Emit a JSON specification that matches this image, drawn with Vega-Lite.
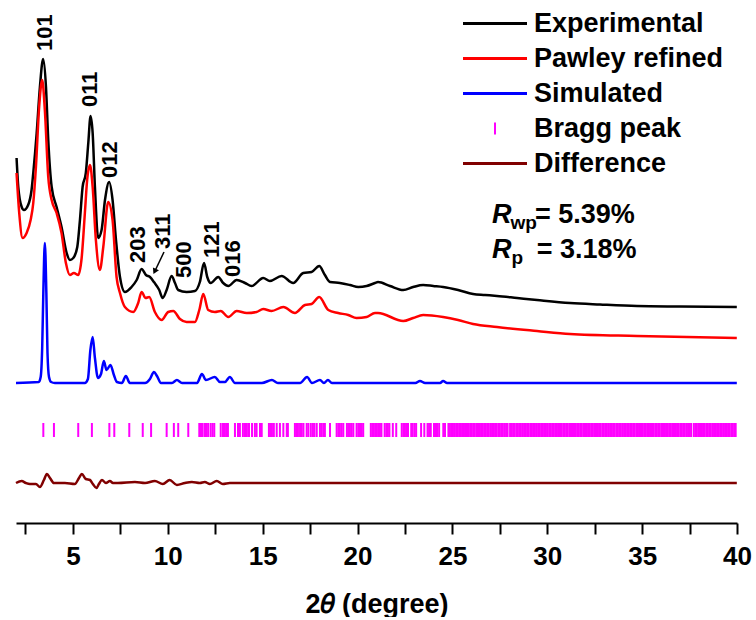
{
"$schema":"https://vega.github.io/schema/vega-lite/v6.json",
"width":721,"height":523,
"padding":{"left":11,"top":0,"right":0,"bottom":0},
"config":{"font":"Liberation Sans","view":{"stroke":null}},
"datasets":{
"curves":[
{"s":"Experimental","t":2.03,"y":365},{"s":"Experimental","t":2.12,"y":336},{"s":"Experimental","t":2.30,"y":316},{"s":"Experimental","t":2.42,"y":313},{"s":"Experimental","t":2.64,"y":318},{"s":"Experimental","t":2.82,"y":333},{"s":"Experimental","t":2.91,"y":350},{"s":"Experimental","t":3.09,"y":390},{"s":"Experimental","t":3.26,"y":436},{"s":"Experimental","t":3.43,"y":464},{"s":"Experimental","t":3.58,"y":436},{"s":"Experimental","t":3.70,"y":383},{"s":"Experimental","t":3.88,"y":336},{"s":"Experimental","t":4.14,"y":316},{"s":"Experimental","t":4.40,"y":296},{"s":"Experimental","t":4.67,"y":270},{"s":"Experimental","t":4.84,"y":263},{"s":"Experimental","t":5.02,"y":265},{"s":"Experimental","t":5.23,"y":276},{"s":"Experimental","t":5.37,"y":303},{"s":"Experimental","t":5.51,"y":336},{"s":"Experimental","t":5.68,"y":350},{"s":"Experimental","t":5.81,"y":380},{"s":"Experimental","t":5.93,"y":407},{"s":"Experimental","t":6.04,"y":390},{"s":"Experimental","t":6.16,"y":336},{"s":"Experimental","t":6.33,"y":285},{"s":"Experimental","t":6.51,"y":293},{"s":"Experimental","t":6.69,"y":323},{"s":"Experimental","t":6.91,"y":341},{"s":"Experimental","t":7.09,"y":323},{"s":"Experimental","t":7.27,"y":283},{"s":"Experimental","t":7.48,"y":246},{"s":"Experimental","t":7.74,"y":231},{"s":"Experimental","t":8.09,"y":236},{"s":"Experimental","t":8.36,"y":243},{"s":"Experimental","t":8.62,"y":254},{"s":"Experimental","t":8.85,"y":248},{"s":"Experimental","t":9.06,"y":246},{"s":"Experimental","t":9.27,"y":241},{"s":"Experimental","t":9.55,"y":233},{"s":"Experimental","t":9.73,"y":225},{"s":"Experimental","t":9.94,"y":233},{"s":"Experimental","t":10.20,"y":247},{"s":"Experimental","t":10.38,"y":240},{"s":"Experimental","t":10.55,"y":233},{"s":"Experimental","t":10.99,"y":231},{"s":"Experimental","t":11.43,"y":232},{"s":"Experimental","t":11.69,"y":241},{"s":"Experimental","t":11.91,"y":260},{"s":"Experimental","t":12.08,"y":246},{"s":"Experimental","t":12.26,"y":240},{"s":"Experimental","t":12.66,"y":246},{"s":"Experimental","t":12.92,"y":240},{"s":"Experimental","t":13.19,"y":237},{"s":"Experimental","t":13.63,"y":243},{"s":"Experimental","t":14.07,"y":240},{"s":"Experimental","t":14.42,"y":237},{"s":"Experimental","t":15.03,"y":245},{"s":"Experimental","t":15.38,"y":242},{"s":"Experimental","t":16.00,"y":247},{"s":"Experimental","t":16.61,"y":240},{"s":"Experimental","t":17.14,"y":250},{"s":"Experimental","t":17.58,"y":251},{"s":"Experimental","t":17.98,"y":257},{"s":"Experimental","t":18.28,"y":248},{"s":"Experimental","t":18.55,"y":241},{"s":"Experimental","t":19.07,"y":240},{"s":"Experimental","t":19.60,"y":238},{"s":"Experimental","t":20.04,"y":236},{"s":"Experimental","t":20.48,"y":237},{"s":"Experimental","t":20.92,"y":240},{"s":"Experimental","t":21.08,"y":241},{"s":"Experimental","t":21.71,"y":237},{"s":"Experimental","t":22.41,"y":233},{"s":"Experimental","t":22.93,"y":236},{"s":"Experimental","t":23.46,"y":238},{"s":"Experimental","t":23.99,"y":237},{"s":"Experimental","t":24.51,"y":236},{"s":"Experimental","t":25.30,"y":233},{"s":"Experimental","t":26.09,"y":229},{"s":"Experimental","t":26.72,"y":228},{"s":"Experimental","t":27.35,"y":227},{"s":"Experimental","t":28.41,"y":225},{"s":"Experimental","t":29.46,"y":223},{"s":"Experimental","t":31.20,"y":220},{"s":"Experimental","t":32.78,"y":218.5},{"s":"Experimental","t":34.73,"y":217},{"s":"Experimental","t":36.99,"y":216.5},{"s":"Experimental","t":39.99,"y":216},
{"s":"Pawley refined","t":2.03,"y":350},{"s":"Pawley refined","t":2.17,"y":310},{"s":"Pawley refined","t":2.35,"y":285},{"s":"Pawley refined","t":2.56,"y":290},{"s":"Pawley refined","t":2.77,"y":303},{"s":"Pawley refined","t":2.91,"y":320},{"s":"Pawley refined","t":3.05,"y":356},{"s":"Pawley refined","t":3.22,"y":416},{"s":"Pawley refined","t":3.38,"y":443},{"s":"Pawley refined","t":3.52,"y":413},{"s":"Pawley refined","t":3.70,"y":346},{"s":"Pawley refined","t":3.88,"y":323},{"s":"Pawley refined","t":4.14,"y":310},{"s":"Pawley refined","t":4.40,"y":290},{"s":"Pawley refined","t":4.63,"y":260},{"s":"Pawley refined","t":4.84,"y":248},{"s":"Pawley refined","t":5.05,"y":250},{"s":"Pawley refined","t":5.28,"y":248},{"s":"Pawley refined","t":5.46,"y":265},{"s":"Pawley refined","t":5.63,"y":310},{"s":"Pawley refined","t":5.75,"y":343},{"s":"Pawley refined","t":5.90,"y":358},{"s":"Pawley refined","t":6.04,"y":336},{"s":"Pawley refined","t":6.21,"y":283},{"s":"Pawley refined","t":6.42,"y":253},{"s":"Pawley refined","t":6.60,"y":276},{"s":"Pawley refined","t":6.86,"y":321},{"s":"Pawley refined","t":7.09,"y":303},{"s":"Pawley refined","t":7.30,"y":246},{"s":"Pawley refined","t":7.48,"y":230},{"s":"Pawley refined","t":7.74,"y":216},{"s":"Pawley refined","t":8.18,"y":211},{"s":"Pawley refined","t":8.44,"y":220},{"s":"Pawley refined","t":8.62,"y":231},{"s":"Pawley refined","t":8.83,"y":225},{"s":"Pawley refined","t":9.02,"y":226},{"s":"Pawley refined","t":9.32,"y":211},{"s":"Pawley refined","t":9.68,"y":203},{"s":"Pawley refined","t":10.02,"y":211},{"s":"Pawley refined","t":10.29,"y":212},{"s":"Pawley refined","t":10.64,"y":204},{"s":"Pawley refined","t":10.99,"y":201},{"s":"Pawley refined","t":11.43,"y":201},{"s":"Pawley refined","t":11.66,"y":213},{"s":"Pawley refined","t":11.87,"y":229},{"s":"Pawley refined","t":12.13,"y":213},{"s":"Pawley refined","t":12.48,"y":211},{"s":"Pawley refined","t":12.79,"y":212},{"s":"Pawley refined","t":13.19,"y":206},{"s":"Pawley refined","t":13.63,"y":212},{"s":"Pawley refined","t":14.16,"y":210},{"s":"Pawley refined","t":14.68,"y":211},{"s":"Pawley refined","t":15.03,"y":214},{"s":"Pawley refined","t":15.47,"y":212},{"s":"Pawley refined","t":16.09,"y":216},{"s":"Pawley refined","t":16.70,"y":210},{"s":"Pawley refined","t":17.23,"y":218},{"s":"Pawley refined","t":17.58,"y":219},{"s":"Pawley refined","t":17.98,"y":226},{"s":"Pawley refined","t":18.46,"y":213},{"s":"Pawley refined","t":18.98,"y":210},{"s":"Pawley refined","t":19.51,"y":208},{"s":"Pawley refined","t":19.95,"y":205},{"s":"Pawley refined","t":20.48,"y":206},{"s":"Pawley refined","t":20.92,"y":210},{"s":"Pawley refined","t":21.08,"y":210},{"s":"Pawley refined","t":22.41,"y":202},{"s":"Pawley refined","t":22.93,"y":205},{"s":"Pawley refined","t":23.46,"y":208},{"s":"Pawley refined","t":24.51,"y":206},{"s":"Pawley refined","t":25.30,"y":203},{"s":"Pawley refined","t":26.09,"y":199},{"s":"Pawley refined","t":27.35,"y":196},{"s":"Pawley refined","t":29.46,"y":192},{"s":"Pawley refined","t":31.20,"y":189},{"s":"Pawley refined","t":34.73,"y":187},{"s":"Pawley refined","t":39.99,"y":185},
{"s":"Simulated","t":2.0,"y":140},{"s":"Simulated","t":3.2,"y":141},{"s":"Simulated","t":3.3,"y":146},{"s":"Simulated","t":3.38,"y":175},{"s":"Simulated","t":3.44,"y":230},{"s":"Simulated","t":3.52,"y":280},{"s":"Simulated","t":3.60,"y":230},{"s":"Simulated","t":3.66,"y":170},{"s":"Simulated","t":3.74,"y":146},{"s":"Simulated","t":3.85,"y":141},{"s":"Simulated","t":4.05,"y":140},{"s":"Simulated","t":5.63,"y":140},{"s":"Simulated","t":5.79,"y":144},{"s":"Simulated","t":5.92,"y":173},{"s":"Simulated","t":6.04,"y":186},{"s":"Simulated","t":6.16,"y":165},{"s":"Simulated","t":6.32,"y":145},{"s":"Simulated","t":6.48,"y":149},{"s":"Simulated","t":6.63,"y":162},{"s":"Simulated","t":6.77,"y":153},{"s":"Simulated","t":6.98,"y":158},{"s":"Simulated","t":7.16,"y":148},{"s":"Simulated","t":7.32,"y":141},{"s":"Simulated","t":7.58,"y":140},{"s":"Simulated","t":7.79,"y":147},{"s":"Simulated","t":8.0,"y":140},{"s":"Simulated","t":8.8,"y":140},{"s":"Simulated","t":9.06,"y":144},{"s":"Simulated","t":9.27,"y":151},{"s":"Simulated","t":9.43,"y":147},{"s":"Simulated","t":9.64,"y":140},{"s":"Simulated","t":10.22,"y":140},{"s":"Simulated","t":10.48,"y":143},{"s":"Simulated","t":10.75,"y":140},{"s":"Simulated","t":11.54,"y":140},{"s":"Simulated","t":11.8,"y":149},{"s":"Simulated","t":12.01,"y":143},{"s":"Simulated","t":12.48,"y":146},{"s":"Simulated","t":12.75,"y":141},{"s":"Simulated","t":13.01,"y":141},{"s":"Simulated","t":13.27,"y":146},{"s":"Simulated","t":13.54,"y":140},{"s":"Simulated","t":14.96,"y":140},{"s":"Simulated","t":15.49,"y":143},{"s":"Simulated","t":15.8,"y":140},{"s":"Simulated","t":16.97,"y":140},{"s":"Simulated","t":17.34,"y":146},{"s":"Simulated","t":17.6,"y":140},{"s":"Simulated","t":18.02,"y":143},{"s":"Simulated","t":18.23,"y":140},{"s":"Simulated","t":18.44,"y":143},{"s":"Simulated","t":18.65,"y":140},{"s":"Simulated","t":23.05,"y":140},{"s":"Simulated","t":23.29,"y":142},{"s":"Simulated","t":23.56,"y":140},{"s":"Simulated","t":24.35,"y":140},{"s":"Simulated","t":24.51,"y":142},{"s":"Simulated","t":24.72,"y":140},{"s":"Simulated","t":39.99,"y":140},
{"s":"Difference","t":2.0,"y":40},{"s":"Difference","t":2.3,"y":42},{"s":"Difference","t":2.52,"y":40},{"s":"Difference","t":2.73,"y":39},{"s":"Difference","t":3.05,"y":39},{"s":"Difference","t":3.26,"y":36},{"s":"Difference","t":3.47,"y":43},{"s":"Difference","t":3.63,"y":49},{"s":"Difference","t":3.79,"y":45},{"s":"Difference","t":4.0,"y":40},{"s":"Difference","t":4.58,"y":40},{"s":"Difference","t":5.1,"y":39},{"s":"Difference","t":5.32,"y":45},{"s":"Difference","t":5.47,"y":49},{"s":"Difference","t":5.68,"y":44},{"s":"Difference","t":5.9,"y":43},{"s":"Difference","t":6.05,"y":39},{"s":"Difference","t":6.24,"y":35},{"s":"Difference","t":6.37,"y":39},{"s":"Difference","t":6.53,"y":43},{"s":"Difference","t":6.74,"y":40},{"s":"Difference","t":6.95,"y":42},{"s":"Difference","t":7.11,"y":40},{"s":"Difference","t":7.37,"y":40},{"s":"Difference","t":8.27,"y":41},{"s":"Difference","t":8.8,"y":40},{"s":"Difference","t":9.32,"y":42},{"s":"Difference","t":9.74,"y":39},{"s":"Difference","t":10.1,"y":43},{"s":"Difference","t":10.48,"y":38},{"s":"Difference","t":10.9,"y":40},{"s":"Difference","t":11.27,"y":41},{"s":"Difference","t":11.69,"y":40},{"s":"Difference","t":11.95,"y":41},{"s":"Difference","t":12.22,"y":39},{"s":"Difference","t":12.58,"y":42},{"s":"Difference","t":12.9,"y":39},{"s":"Difference","t":13.27,"y":40},{"s":"Difference","t":39.99,"y":40}
],
"bragg":[
{"t":3.44},{"t":4.0},{"t":5.28},{"t":6.0},{"t":6.92},{"t":7.18},{"t":7.97},{"t":8.68},{"t":9.12},{"t":9.94},{"t":10.32},{"t":10.55},{"t":11.08},
{"t":11.66},{"t":11.75},{"t":11.84},{"t":11.96},{"t":12.05},{"t":12.13},{"t":12.26},{"t":12.36},{"t":12.45},{"t":12.79},{"t":12.91},{"t":13.01},{"t":13.09},{"t":13.17},{"t":13.54},{"t":13.70},{"t":13.80},{"t":13.96},{"t":14.07},{"t":14.17},{"t":14.28},{"t":14.44},{"t":14.59},{"t":14.68},{"t":14.86},{"t":14.95},{"t":15.33},{"t":15.41},{"t":15.49},{"t":15.59},{"t":15.74},{"t":15.91},{"t":16.09},{"t":16.27},{"t":16.33},{"t":16.70},{"t":16.78},{"t":16.86},{"t":16.97},{"t":17.06},{"t":17.15},{"t":17.32},{"t":17.41},{"t":17.54},{"t":17.65},{"t":17.73},{"t":17.85},{"t":18.02},{"t":18.11},{"t":18.20},{"t":18.28},{"t":18.55},{"t":18.90},{"t":18.99},{"t":19.07},{"t":19.16},{"t":19.25},{"t":19.44},{"t":19.52},{"t":19.60},{"t":19.69},{"t":19.78},{"t":19.95},{"t":20.04},{"t":20.13},{"t":20.22},{"t":20.30},{"t":20.70},{"t":20.78},{"t":20.86},{"t":20.94},{"t":21.02},{"t":21.10},{"t":21.18},{"t":21.26},{"t":21.43},{"t":21.52},{"t":21.60},{"t":21.68},{"t":21.86},{"t":22.04},{"t":22.33},{"t":22.42},{"t":22.50},{"t":22.59},{"t":22.66},{"t":22.83},{"t":22.91},{"t":23.01},{"t":23.09},{"t":23.35},{"t":23.52},{"t":23.69},{"t":23.77},{"t":23.86},{"t":24.03},{"t":24.11},{"t":24.19},{"t":24.30},{"t":24.52},{"t":24.61},
{"t":24.79},{"t":24.87},{"t":24.95},{"t":25.03},{"t":25.12},{"t":25.2},{"t":25.28},{"t":25.36},{"t":25.45},{"t":25.53},{"t":25.61},{"t":25.69},{"t":25.77},{"t":25.86},{"t":25.94},{"t":26.02},{"t":26.1},{"t":26.18},{"t":26.27},{"t":26.35},{"t":26.43},{"t":26.51},{"t":26.6},{"t":26.68},{"t":26.76},{"t":26.84},{"t":26.92},{"t":27.01},{"t":27.09},{"t":27.17},{"t":27.25},{"t":27.33},{"t":27.42},{"t":27.5},{"t":27.58},{"t":27.66},{"t":27.75},{"t":27.83},{"t":27.91},
{"t":28.04},{"t":28.12},{"t":28.2},{"t":28.28},{"t":28.37},{"t":28.45},{"t":28.53},{"t":28.61},{"t":28.7},{"t":28.78},{"t":28.86},{"t":28.94},{"t":29.02},{"t":29.11},{"t":29.19},{"t":29.27},{"t":29.35},{"t":29.44},{"t":29.52},{"t":29.6},{"t":29.68},{"t":29.77},{"t":29.85},{"t":29.93},{"t":30.01},{"t":30.1},{"t":30.18},{"t":30.26},{"t":30.34},{"t":30.42},{"t":30.51},{"t":30.59},{"t":30.67},{"t":30.75},{"t":30.84},{"t":30.92},{"t":31.0},{"t":31.08},{"t":31.17},{"t":31.25},{"t":31.33},{"t":31.41},{"t":31.5},{"t":31.58},{"t":31.66},{"t":31.74},{"t":31.82},{"t":31.91},{"t":31.99},{"t":32.07},{"t":32.15},{"t":32.24},{"t":32.32},{"t":32.4},{"t":32.48},{"t":32.57},{"t":32.65},{"t":32.73},{"t":32.81},{"t":32.9},{"t":32.98},{"t":33.06},{"t":33.14},{"t":33.22},{"t":33.31},{"t":33.39},{"t":33.47},{"t":33.55},{"t":33.64},{"t":33.72},{"t":33.8},{"t":33.88},{"t":33.97},{"t":34.05},{"t":34.13},{"t":34.21},{"t":34.3},{"t":34.38},{"t":34.45},
{"t":34.53},{"t":34.61},{"t":34.7},{"t":34.78},{"t":34.86},{"t":34.94},{"t":35.03},{"t":35.11},{"t":35.19},{"t":35.27},{"t":35.36},{"t":35.44},{"t":35.52},{"t":35.6},{"t":35.69},{"t":35.77},{"t":35.85},{"t":35.93},{"t":36.02},{"t":36.1},{"t":36.18},{"t":36.26},{"t":36.35},{"t":36.43},{"t":36.51},{"t":36.59},{"t":36.68},{"t":36.76},{"t":36.84},{"t":36.92},{"t":37.01},{"t":37.09},{"t":37.17},{"t":37.25},{"t":37.34},{"t":37.42},{"t":37.5},{"t":37.58},
{"t":37.72},{"t":37.8},{"t":37.88},{"t":37.96},{"t":38.05},{"t":38.13},{"t":38.21},{"t":38.29},{"t":38.38},{"t":38.46},{"t":38.54},{"t":38.62},{"t":38.71},{"t":38.79},{"t":38.87},{"t":38.95},{"t":39.04},{"t":39.12},{"t":39.2},{"t":39.28},{"t":39.37},{"t":39.45},{"t":39.53},{"t":39.61},{"t":39.7},{"t":39.78},{"t":39.86},{"t":39.93}
],
"hkl":[
{"label":"101","t":3.54,"y":472},{"label":"011","t":5.92,"y":416},{"label":"012","t":6.98,"y":345},{"label":"203","t":8.45,"y":260},{"label":"311","t":9.77,"y":274},{"label":"500","t":10.88,"y":245},{"label":"121","t":12.33,"y":265},{"label":"016","t":13.43,"y":246}
]
},
"layer":[
{"data":{"name":"curves"},
 "mark":{"type":"line","strokeWidth":2.5,"interpolate":"monotone"},
 "encoding":{
  "x":{"field":"t","type":"quantitative","scale":{"domain":[2,40],"nice":false,"zero":false},
   "axis":{"values":[2.5,5,7.5,10,12.5,15,17.5,20,22.5,25,27.5,30,32.5,35,37.5,40],
     "labelExpr":"datum.value % 5 === 0 ? format(datum.value,'d') : ''",
     "labelOverlap":false,"labelFlush":false,"grid":false,
     "domainColor":"black","domainWidth":2,"tickColor":"black","tickWidth":2,"tickSize":11,
     "labelFont":"Liberation Sans","labelFontSize":26,"labelFontWeight":"bold","labelColor":"black","labelPadding":9,
     "title":"2𝜃 (degree)","titleFont":"Liberation Sans","titleFontSize":27,"titleFontWeight":"bold","titleColor":"black","titlePadding":22,
     "encode":{"ticks":{"update":{"y2":{"signal":"datum.value % 5 === 0 ? 11 : 7"}}}}}},
  "y":{"field":"y","type":"quantitative","scale":{"domain":[0,523],"nice":false,"zero":false},"axis":null},
  "detail":{"field":"s"},
  "color":{"field":"s","type":"nominal",
   "scale":{"domain":["Experimental","Pawley refined","Simulated","Bragg peak","Difference"],"range":["#000000","#ff0000","#0000ff","#ff00ff","#800000"]},
   "legend":{"title":null,"orient":"none","legendX":465.5,"legendY":10,"symbolType":"stroke","symbolSize":4096,"symbolStrokeWidth":3,
     "labelFont":"Liberation Sans","labelFontSize":27,"labelFontWeight":"bold","labelColor":"black","labelOffset":25.5,"rowPadding":7,"padding":0,"labelLimit":400,
     "encode":{"symbols":{"update":{"shape":{"signal":"datum.value === 'Bragg peak' ? 'M0,-0.19V0.19' : 'stroke'"},"strokeWidth":{"signal":"datum.value === 'Bragg peak' ? 2 : 3"},"stroke":{"scale":"color","field":"value"}}}}}}
 }},
{"data":{"name":"bragg"},
 "mark":{"type":"tick","orient":"vertical","thickness":2,"size":14,"opacity":1},
 "encoding":{"x":{"field":"t","type":"quantitative"},"y":{"datum":93,"type":"quantitative"},"color":{"datum":"Bragg peak","type":"nominal"}}},
{"data":{"name":"hkl"},
 "mark":{"type":"text","angle":270,"align":"left","baseline":"middle","font":"Liberation Sans","fontSize":22,"fontWeight":"bold","color":"black"},
 "encoding":{"x":{"field":"t","type":"quantitative"},"y":{"field":"y","type":"quantitative"},"text":{"field":"label"}}},
{"data":{"values":[{"t":9.80,"y":271,"t2":9.31,"y2":251.5}]},
 "mark":{"type":"rule","strokeWidth":1.5,"color":"black"},
 "encoding":{"x":{"field":"t","type":"quantitative"},"y":{"field":"y","type":"quantitative"},"x2":{"field":"t2"},"y2":{"field":"y2"}}},
{"data":{"values":[{"t":9.31,"y":251.5}]},
 "mark":{"type":"point","shape":"triangle-up","angle":205.5,"size":45,"filled":true,"color":"black","opacity":1},
 "encoding":{"x":{"field":"t","type":"quantitative"},"y":{"field":"y","type":"quantitative"}}},
{"data":{"values":[{"t":27.09,"y":300,"txt":"R"},{"t":27.09,"y":265,"txt":"R"}]},
 "mark":{"type":"text","align":"left","baseline":"alphabetic","font":"Liberation Sans","fontSize":27,"fontWeight":"bold","fontStyle":"italic","color":"black"},
 "encoding":{"x":{"field":"t","type":"quantitative"},"y":{"field":"y","type":"quantitative"},"text":{"field":"txt"}}},
{"data":{"values":[{"t":28.06,"y":294,"txt":"wp"},{"t":28.12,"y":259,"txt":"p"}]},
 "mark":{"type":"text","align":"left","baseline":"alphabetic","font":"Liberation Sans","fontSize":19,"fontWeight":"bold","color":"black"},
 "encoding":{"x":{"field":"t","type":"quantitative"},"y":{"field":"y","type":"quantitative"},"text":{"field":"txt"}}},
{"data":{"values":[{"t":29.35,"y":300,"txt":"= 5.39%"},{"t":29.44,"y":265,"txt":"= 3.18%"}]},
 "mark":{"type":"text","align":"left","baseline":"alphabetic","font":"Liberation Sans","fontSize":27,"fontWeight":"bold","color":"black"},
 "encoding":{"x":{"field":"t","type":"quantitative"},"y":{"field":"y","type":"quantitative"},"text":{"field":"txt"}}}
]
}
